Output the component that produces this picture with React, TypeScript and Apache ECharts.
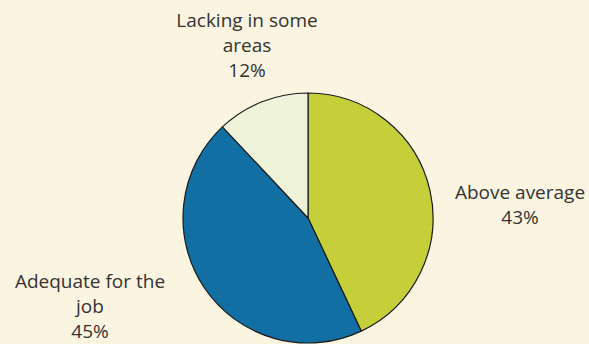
import React, { useEffect, useRef } from "react";
import * as echarts from "echarts";

const categories = ["Above average", "Adequate for the job", "Lacking in some areas"];
const values = [43, 45, 12];
const labelLines = [["Above average"], ["Adequate for the", "job"], ["Lacking in some", "areas"]];
const colors = ["#C4CF3A", "#116FA4", "#EFF3DA"];
const labelPos = [
  { x: 520, y: 204 },
  { x: 90, y: 306 },
  { x: 247, y: 45 },
];

export default function App() {
  const ref = useRef<HTMLDivElement>(null);
  useEffect(() => {
    document.body.style.margin = "0";
    const chart = echarts.init(ref.current!, null, { renderer: "svg" });
    chart.setOption({
      animation: false,
      backgroundColor: "#FAF4E0",
      series: [
        {
          type: "pie",
          center: [308, 218],
          radius: 125,
          startAngle: 90,
          clockwise: true,
          data: categories.map((c, i) => ({
            name: c,
            value: values[i],
            itemStyle: { color: colors[i] },
          })),
          itemStyle: { borderColor: "#1a1a1a", borderWidth: 1.2 },
          label: {
            show: true,
            position: "outside",
            formatter: (p: any) => labelLines[p.dataIndex].join("\n") + "\n" + p.value + "%",
            fontFamily: "Open Sans",
            fontSize: 19,
            lineHeight: 25,
            color: "#333333",
            align: "center",
            overflow: "none",
            edgeDistance: 0,
          },
          labelLine: { show: false },
          labelLayout: (p: any) => ({
            x: labelPos[p.dataIndex].x,
            y: labelPos[p.dataIndex].y,
            align: "center",
            verticalAlign: "middle",
          }),
          emphasis: { disabled: true },
        },
      ],
    });
    return () => chart.dispose();
  }, []);
  return <div ref={ref} style={{ width: 589, height: 344 }} />;
}
